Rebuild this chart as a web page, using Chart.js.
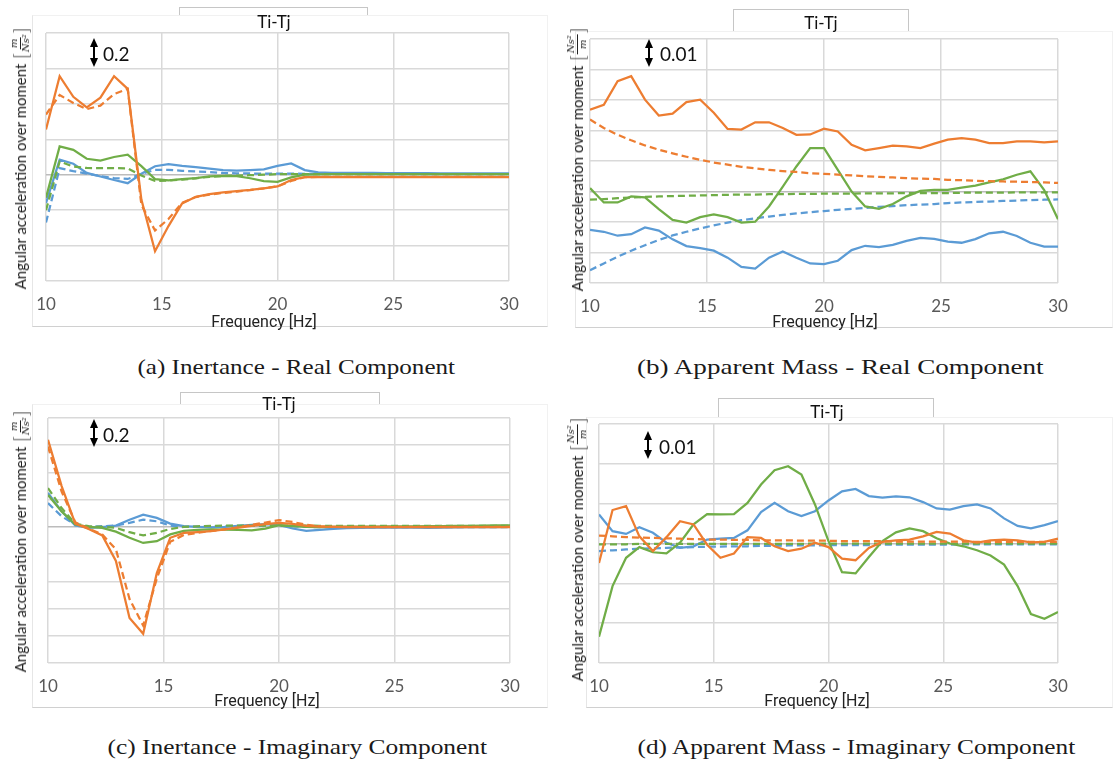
<!DOCTYPE html>
<html>
<head>
<meta charset="utf-8">
<script src="https://cdn.jsdelivr.net/npm/chart.js@4.4.1/dist/chart.umd.min.js"></script>
<style>
  html, body { margin: 0; padding: 0; background: #fff; }
  #page { position: relative; width: 1117px; height: 765px; overflow: hidden; font-family: Lato, 'Open Sans', sans-serif; }
  .frame { position: absolute; background: #fff; border: 1px solid #f1f1f1; border-left-color: #e6e6e6; border-bottom-color: #d0d0d0; box-sizing: border-box; }
  .legbox { position: absolute; border: 1px solid #c6c6c6; border-bottom: none; box-sizing: border-box; }
  .legtxt { position: absolute; font-size: 17px; color: #111; transform: translate(-50%, -50%); white-space: nowrap; }
  .plotwrap { position: absolute; }
  .ytitle { position: absolute; white-space: nowrap; font-size: 15px; color: #222; display: flex; align-items: center; transform: translate(-50%, -50%) rotate(-90deg); }
  .ytitle .br { font-size: 19px; line-height: 1; margin: 0 1px; font-weight: 300; }
  .frac { display: inline-flex; flex-direction: column; align-items: center; font-size: 10px; line-height: 1.05; font-style: italic; font-family: 'DejaVu Serif', serif; }
  .frac span:first-child { border-bottom: 1px solid #222; padding: 0 1px; }
  .xtitle { position: absolute; font-family: 'Liberation Sans Narrow', 'Arial Narrow', 'Roboto', sans-serif; font-size: 16px; color: #222; transform: translate(-50%, -50%); white-space: nowrap; }
  .arrow { position: absolute; }
  .arrtxt { position: absolute; font-size: 19px; color: #111; transform: translateY(-50%); white-space: nowrap; }
  .caption { position: absolute; font-family: 'Liberation Serif', 'DejaVu Serif', serif; font-size: 22px; color: #1a1a1a; white-space: nowrap; transform-origin: 50% 50%; }
</style>
</head>
<body>
<div id="page"></div>
<script>
// frequency points [Hz]
const freq = [10.00, 10.59, 11.18, 11.76, 12.35, 12.94, 13.53, 14.12, 14.71, 15.29, 15.88, 16.47,
  17.06, 17.65, 18.24, 18.82, 19.41, 20.00, 20.59, 21.18, 21.76, 22.35, 22.94, 23.53, 24.12,
  24.71, 25.29, 25.88, 26.47, 27.06, 27.65, 28.24, 28.82, 29.41, 30.00];
const xTicks = [10, 15, 20, 25, 30];

// (a) Inertance - real
const aOrangeSolid = [0.255, 0.556, 0.44, 0.38, 0.435, 0.556, 0.485, -0.14, -0.432, -0.29, -0.162, -0.125,
  -0.11, -0.1, -0.093, -0.086, -0.077, -0.066, -0.03, -0.013, -0.013, -0.013, -0.013, -0.013, -0.013,
  -0.013, -0.013, -0.013, -0.013, -0.013, -0.013, -0.013, -0.013, -0.013, -0.013];
const aOrangeDash = [0.34, 0.45, 0.405, 0.37, 0.39, 0.455, 0.485, -0.17, -0.315, -0.25, -0.158, -0.126,
  -0.112, -0.103, -0.095, -0.087, -0.077, -0.066, -0.035, -0.014, -0.012, -0.012, -0.012, -0.012, -0.012,
  -0.012, -0.012, -0.012, -0.012, -0.012, -0.012, -0.012, -0.012, -0.012, -0.012];
const aGreenSolid = [-0.13, 0.16, 0.14, 0.09, 0.08, 0.1, 0.113, 0.048, -0.025, -0.032, -0.025, -0.019,
  -0.01, -0.006, -0.008, -0.02, -0.036, -0.04, -0.015, 0, 0.002, 0.003, 0.003, 0.003, 0.003,
  0.003, 0.003, 0.003, 0.003, 0.003, 0.003, 0.003, 0.003, 0.003, 0.003];
const aGreenDash = [-0.2, 0.075, 0.046, 0.038, 0.037, 0.037, 0.036, -0.005, -0.035, -0.033, -0.028, -0.02,
  -0.012, -0.007, -0.005, -0.003, 0, 0.003, 0.004, 0.003, 0.003, 0.003, 0.003, 0.003, 0.003,
  0.003, 0.003, 0.003, 0.003, 0.003, 0.003, 0.003, 0.003, 0.003, 0.003];
const aBlueSolid = [-0.16, 0.085, 0.062, 0.01, -0.01, -0.03, -0.048, 0.005, 0.048, 0.06, 0.05, 0.043,
  0.034, 0.026, 0.023, 0.026, 0.03, 0.05, 0.064, 0.026, 0.013, 0.011, 0.01, 0.01, 0.01,
  0.009, 0.009, 0.009, 0.009, 0.008, 0.008, 0.008, 0.008, 0.008, 0.008];
const aBlueDash = [-0.27, 0.037, 0.02, 0.006, -0.008, -0.019, -0.024, 0.004, 0.027, 0.027, 0.022, 0.019,
  0.015, 0.01, 0.008, 0.007, 0.006, 0.006, 0.006, 0.005, 0.005, 0.005, 0.005, 0.004, 0.004,
  0.004, 0.004, 0.004, 0.004, 0.004, 0.004, 0.004, 0.004, 0.004, 0.004];

// (b) Apparent mass - real
const bOrangeSolid = [0.0268, 0.0284, 0.0362, 0.0378, 0.0301, 0.0249, 0.0255, 0.0293, 0.0301, 0.0258, 0.0205, 0.0203,
  0.0227, 0.0227, 0.0208, 0.0186, 0.0187, 0.0206, 0.0197, 0.0153, 0.0135, 0.0142, 0.0150, 0.0148, 0.0142,
  0.0157, 0.0170, 0.0175, 0.0170, 0.0159, 0.0159, 0.0164, 0.0164, 0.0161, 0.0164];
const bOrangeDash = [0.0236, 0.0208, 0.0186, 0.0168, 0.0151, 0.0137, 0.0125, 0.0114, 0.0104, 0.0095, 0.0088, 0.0081,
  0.0076, 0.0071, 0.0067, 0.0064, 0.0060, 0.0058, 0.0055, 0.0053, 0.0050, 0.0048, 0.0046, 0.0044, 0.0042,
  0.0041, 0.0038, 0.0037, 0.0035, 0.0034, 0.0033, 0.0032, 0.0031, 0.0030, 0.0028];
const bGreenSolid = [0.0011, -0.0036, -0.0036, -0.0016, -0.0019, -0.0058, -0.0093, -0.0102, -0.0084, -0.0075, -0.0084, -0.0102,
  -0.0099, -0.0049, 0.0016, 0.0082, 0.0142, 0.0142, 0.0071, 0.0000, -0.0049, -0.0057, -0.0041, -0.0016, 0.0002,
  0.0005, 0.0005, 0.0013, 0.0019, 0.0030, 0.0040, 0.0055, 0.0066, 0.0005, -0.0091];
const bGreenDash = [-0.0027, -0.0025, -0.0022, -0.0020, -0.0018, -0.0016, -0.0015, -0.0014, -0.0013, -0.0012, -0.0011, -0.0010,
  -0.0010, -0.0009, -0.0009, -0.0008, -0.0008, -0.0007, -0.0007, -0.0007, -0.0006, -0.0006, -0.0006, -0.0005, -0.0005,
  -0.0005, -0.0005, -0.0004, -0.0004, -0.0004, -0.0004, -0.0003, -0.0003, -0.0003, -0.0003];
const bBlueSolid = [-0.0126, -0.0132, -0.0145, -0.0140, -0.0118, -0.0128, -0.0157, -0.0179, -0.0186, -0.0194, -0.0217, -0.0247,
  -0.0253, -0.0217, -0.0197, -0.0217, -0.0236, -0.0238, -0.0227, -0.0192, -0.0178, -0.0182, -0.0175, -0.0162, -0.0152,
  -0.0155, -0.0164, -0.0168, -0.0156, -0.0137, -0.0132, -0.0146, -0.0168, -0.0181, -0.0181];
const bBlueDash = [-0.0258, -0.0236, -0.0214, -0.0194, -0.0176, -0.0159, -0.0144, -0.0132, -0.0121, -0.0111, -0.0102, -0.0094,
  -0.0088, -0.0082, -0.0077, -0.0072, -0.0068, -0.0064, -0.0060, -0.0057, -0.0054, -0.0050, -0.0048, -0.0045, -0.0043,
  -0.0041, -0.0038, -0.0036, -0.0034, -0.0033, -0.0031, -0.0030, -0.0028, -0.0027, -0.0026];

// (c) Inertance - imaginary
const cOrangeSolid = [0.64, 0.30, 0.024, -0.015, -0.063, -0.25, -0.67, -0.785, -0.34, -0.08, -0.044, -0.039,
  -0.032, -0.019, -0.006, 0.008, 0.02, 0.03, 0.022, 0.008, 0.002, 0, -0.002, -0.002, -0.002,
  -0.002, -0.001, -0.001, -0.001, -0.001, -0.001, -0.001, -0.001, -0.001, -0.001];
const cOrangeDash = [0.59, 0.26, 0.034, -0.012, -0.056, -0.165, -0.53, -0.725, -0.38, -0.11, -0.059, -0.044,
  -0.03, -0.018, -0.004, 0.015, 0.032, 0.05, 0.036, 0.015, 0.005, 0.001, 0, 0, 0,
  0, 0, 0, 0, 0, 0, 0, 0, 0, 0];
const cGreenSolid = [0.235, 0.114, 0.017, 0, -0.007, -0.035, -0.08, -0.118, -0.105, -0.055, -0.03, -0.022,
  -0.018, -0.02, -0.022, -0.026, -0.012, 0.012, 0.005, 0, -0.002, 0.001, 0.002, 0.002, 0.002,
  0.003, 0.003, 0.004, 0.005, 0.006, 0.007, 0.008, 0.01, 0.012, 0.012];
const cGreenDash = [0.285, 0.138, 0.024, 0.005, 0, -0.007, -0.039, -0.063, -0.044, -0.015, 0, 0.004,
  0.008, 0.009, 0.01, 0.01, 0.01, 0.01, 0.01, 0.009, 0.008, 0.008, 0.008, 0.008, 0.008,
  0.008, 0.008, 0.008, 0.008, 0.008, 0.008, 0.008, 0.008, 0.008, 0.008];
const cBlueSolid = [0.25, 0.114, 0.01, -0.007, -0.002, 0.01, 0.053, 0.09, 0.066, 0.024, 0.005, 0,
  -0.004, 0, 0.007, 0.015, 0.02, 0.015, -0.012, -0.029, -0.022, -0.014, -0.01, -0.008, -0.006,
  -0.005, -0.004, -0.006, -0.007, -0.005, -0.003, -0.002, -0.001, -0.001, 0];
const cBlueDash = [0.175, 0.078, 0.017, 0, 0.005, 0.01, 0.029, 0.053, 0.041, 0.01, 0, 0.002,
  0.004, 0.006, 0.008, 0.009, 0.01, 0.008, 0.004, 0, -0.002, -0.003, -0.003, -0.003, -0.003,
  -0.002, -0.002, -0.002, -0.002, -0.002, -0.001, -0.001, -0.001, -0.001, -0.001];

// (d) Apparent mass - imaginary
const dOrangeSolid = [-0.0049, 0.0084, 0.0094, 0.0018, -0.0019, 0.0016, 0.0056, 0.0048, -0.0003, -0.0036, -0.0025, 0.0016,
  0.0014, -0.0007, -0.0019, -0.0013, 0.0002, -0.0009, -0.0038, -0.0042, -0.0011, 0.0004, 0.0008, 0.0010, 0.0018,
  0.0029, 0.0025, 0.0008, 0.0002, 0.0008, 0.0010, 0.0008, 0.0003, 0.0004, 0.0012];
const dOrangeDash = [0.0020, 0.0018, 0.0016, 0.0015, 0.0014, 0.0013, 0.0012, 0.0011, 0.0010, 0.0010, 0.0009, 0.0009,
  0.0008, 0.0008, 0.0008, 0.0007, 0.0007, 0.0007, 0.0006, 0.0006, 0.0006, 0.0006, 0.0005, 0.0005, 0.0005,
  0.0005, 0.0005, 0.0005, 0.0004, 0.0004, 0.0004, 0.0004, 0.0004, 0.0004, 0.0004];
const dGreenSolid = [-0.0234, -0.0107, -0.0036, -0.0009, -0.0022, -0.0025, 0.0002, 0.0048, 0.0074, 0.0073, 0.0074, 0.0102,
  0.0148, 0.0184, 0.0194, 0.0173, 0.0098, 0.0006, -0.0072, -0.0075, -0.0034, 0.0006, 0.0028, 0.0038, 0.0031,
  0.0013, 0.0000, -0.0007, -0.0017, -0.0030, -0.0053, -0.0107, -0.0177, -0.0189, -0.0172];
const dGreenDash = [-0.0002, -0.0002, -0.0002, -0.0001, -0.0001, -0.0001, -0.0001, -0.0001, -0.0001, -0.0001, -0.0001, -0.0001,
  -0.0001, -0.0001, -0.0001, -0.0001, 0, 0, 0, 0, 0, 0, 0, 0, 0,
  0, 0, 0, 0, 0, 0, 0, 0, 0, 0];
const dBlueSolid = [0.0073, 0.0031, 0.0024, 0.0041, 0.0027, 0.0002, -0.0011, -0.0007, 0.0010, 0.0012, 0.0014, 0.0033,
  0.0079, 0.0102, 0.0081, 0.0069, 0.0081, 0.0108, 0.0131, 0.0137, 0.0119, 0.0115, 0.0118, 0.0116, 0.0104,
  0.0088, 0.0085, 0.0094, 0.0098, 0.0088, 0.0063, 0.0044, 0.0038, 0.0046, 0.0056];
const dBlueDash = [-0.0019, -0.0017, -0.0015, -0.0013, -0.0012, -0.0011, -0.0010, -0.0009, -0.0008, -0.0008, -0.0007, -0.0007,
  -0.0006, -0.0006, -0.0005, -0.0005, -0.0005, -0.0004, -0.0004, -0.0004, -0.0004, -0.0003, -0.0003, -0.0003, -0.0003,
  -0.0003, -0.0003, -0.0002, -0.0002, -0.0002, -0.0002, -0.0002, -0.0002, -0.0002, -0.0002];

const ORANGE = '#ED7D31', BLUE = '#5B9BD5', GREEN = '#70AD47'

const panels = [
  { series: [aOrangeSolid, aOrangeDash, aGreenSolid, aGreenDash, aBlueSolid, aBlueDash],
    yMin: -0.6, yMax: 0.8, yStep: 0.2, scaleLabel: '0.2', unit: ['m', 'Ns²'],
    caption: '(a) Inertance - Real Component',
    plot: { l: 46, t: 33, r: 509, b: 281 }, frame: { l: 32, t: 15, r: 548, b: 327 },
    leg: { l: 179, r: 368, t: 7, x: 274, y: 21 }, yTitle: { x: 20, y: 158 }, xTitle: { x: 264, y: 321 },
    arrow: { x: 94, t: 38, b: 67, tx: 103, ty: 53 }, cap: { x: 296, y: 367, w: 318 } },
  { series: [bOrangeSolid, bOrangeDash, bGreenSolid, bGreenDash, bBlueSolid, bBlueDash],
    yMin: -0.03, yMax: 0.05, yStep: 0.01, scaleLabel: '0.01', unit: ['Ns²', 'm'],
    caption: '(b) Apparent Mass - Real Component',
    plot: { l: 590, t: 39, r: 1058, b: 283 }, frame: { l: 575, t: 31, r: 1113, b: 328 },
    leg: { l: 733, r: 909, t: 9, x: 821, y: 22 }, yTitle: { x: 577, y: 159 }, xTitle: { x: 825, y: 321 },
    arrow: { x: 649, t: 39, b: 67, tx: 660, ty: 53 }, cap: { x: 840, y: 367, w: 407 } },
  { series: [cOrangeSolid, cOrangeDash, cGreenSolid, cGreenDash, cBlueSolid, cBlueDash],
    yMin: -1.0, yMax: 0.8, yStep: 0.2, scaleLabel: '0.2', unit: ['m', 'Ns²'],
    caption: '(c) Inertance - Imaginary Component',
    plot: { l: 48, t: 418, r: 510, b: 663 }, frame: { l: 32, t: 404, r: 548, b: 708 },
    leg: { l: 180, r: 380, t: 392, x: 279, y: 403 }, yTitle: { x: 20, y: 541 }, xTitle: { x: 267, y: 700 },
    arrow: { x: 94, t: 419, b: 447, tx: 103, ty: 434 }, cap: { x: 297, y: 747, w: 380 } },
  { series: [dOrangeSolid, dOrangeDash, dGreenSolid, dGreenDash, dBlueSolid, dBlueDash],
    yMin: -0.03, yMax: 0.03, yStep: 0.01, scaleLabel: '0.01', unit: ['Ns²', 'm'],
    caption: '(d) Apparent Mass - Imaginary Component',
    plot: { l: 599, t: 424, r: 1058, b: 663 }, frame: { l: 586, t: 417, r: 1113, b: 708 },
    leg: { l: 718, r: 934, t: 398, x: 827, y: 411 }, yTitle: { x: 577, y: 549 }, xTitle: { x: 817, y: 700 },
    arrow: { x: 648, t: 431, b: 459, tx: 659, ty: 446 }, cap: { x: 856, y: 747, w: 438 } }
]

const seriesStyle = [
  { color: ORANGE, dash: [] }, { color: ORANGE, dash: [7, 4] },
  { color: GREEN, dash: [] }, { color: GREEN, dash: [7, 4] },
  { color: BLUE, dash: [] }, { color: BLUE, dash: [7, 4] }
]

const page = document.getElementById('page')

function el(cls, css, html) {
  const d = document.createElement('div')
  d.className = cls
  Object.assign(d.style, css)
  if (html !== undefined) d.innerHTML = html
  page.appendChild(d)
  return d
}

function buildPanel(p) {
  // legend-like title box and chart frame
  el('legbox', { left: p.leg.l + 'px', top: p.leg.t + 'px', width: (p.leg.r - p.leg.l) + 'px', height: '30px' })
  el('frame', { left: p.frame.l + 'px', top: p.frame.t + 'px', width: (p.frame.r - p.frame.l) + 'px', height: (p.frame.b - p.frame.t) + 'px' })

  const padL = 24, padT = 10, padR = 24, xH = 46
  const w = p.plot.r - p.plot.l + padL + padR
  const h = p.plot.b - p.plot.t + padT + xH
  const wrap = el('plotwrap', { left: (p.plot.l - padL) + 'px', top: (p.plot.t - padT) + 'px', width: w + 'px', height: h + 'px' })
  const canvas = document.createElement('canvas')
  canvas.width = w
  canvas.height = h
  wrap.appendChild(canvas)

  new Chart(canvas, {
    type: 'line',
    data: {
      datasets: p.series.map((vals, i) => ({
        data: freq.map((f, k) => ({ x: f, y: vals[k] })),
        borderColor: seriesStyle[i].color,
        borderDash: seriesStyle[i].dash,
        borderWidth: 2.25,
        pointRadius: 0,
        fill: false,
        tension: 0
      }))
    },
    options: {
      responsive: false,
      animation: false,
      layout: { padding: { left: padL, top: padT, right: padR, bottom: 0 } },
      plugins: { legend: { display: false }, tooltip: { enabled: false } },
      scales: {
        x: {
          type: 'linear', min: xTicks[0], max: xTicks[xTicks.length - 1],
          afterBuildTicks: s => { s.ticks = xTicks.map(v => ({ value: v })) },
          ticks: { color: '#595959', font: { family: 'Lato', size: 17 }, padding: 13, maxRotation: 0 },
          grid: { color: '#d9d9d9', lineWidth: 1.5, drawTicks: false },
          border: { display: false },
          afterFit: s => { s.height = xH }
        },
        y: {
          min: p.yMin, max: p.yMax,
          ticks: { stepSize: p.yStep, display: false },
          grid: { color: c => Math.abs(c.tick.value) < 1e-9 ? '#bcbcbc' : '#d9d9d9', lineWidth: 1.5, drawTicks: false },
          border: { display: false },
          afterFit: s => { s.width = 0 }
        }
      }
    }
  })

  // overlays
  el('legtxt', { left: p.leg.x + 'px', top: p.leg.y + 'px' }, 'Ti-Tj')
  el('ytitle', { left: p.yTitle.x + 'px', top: p.yTitle.y + 'px' },
    'Angular acceleration over moment&nbsp;<span class="br">[</span><span class="frac"><span>' + p.unit[0] +
    '</span><span>' + p.unit[1] + '</span></span><span class="br">]</span>')
  el('xtitle', { left: p.xTitle.x + 'px', top: p.xTitle.y + 'px' }, 'Frequency [Hz]')

  const ah = p.arrow.b - p.arrow.t
  el('arrow', { left: (p.arrow.x - 6) + 'px', top: p.arrow.t + 'px', width: '12px', height: ah + 'px' },
    '<svg width="12" height="' + ah + '" viewBox="0 0 12 ' + ah + '">' +
    '<line x1="6" y1="6" x2="6" y2="' + (ah - 6) + '" stroke="#000" stroke-width="2"/>' +
    '<polygon points="6,0 2,9 10,9" fill="#000"/>' +
    '<polygon points="6,' + ah + ' 2,' + (ah - 9) + ' 10,' + (ah - 9) + '" fill="#000"/></svg>')
  el('arrtxt', { left: p.arrow.tx + 'px', top: p.arrow.ty + 'px' }, p.scaleLabel)

  const cap = el('caption', { left: p.cap.x + 'px', top: p.cap.y + 'px' }, p.caption)
  const cw = cap.offsetWidth, ch = cap.offsetHeight
  cap.style.left = (p.cap.x - cw / 2) + 'px'
  cap.style.top = (p.cap.y - ch / 2) + 'px'
  cap.style.transform = 'scaleX(' + (p.cap.w / cw).toFixed(3) + ')'
}

panels.forEach(buildPanel)
</script>
</body>
</html>
